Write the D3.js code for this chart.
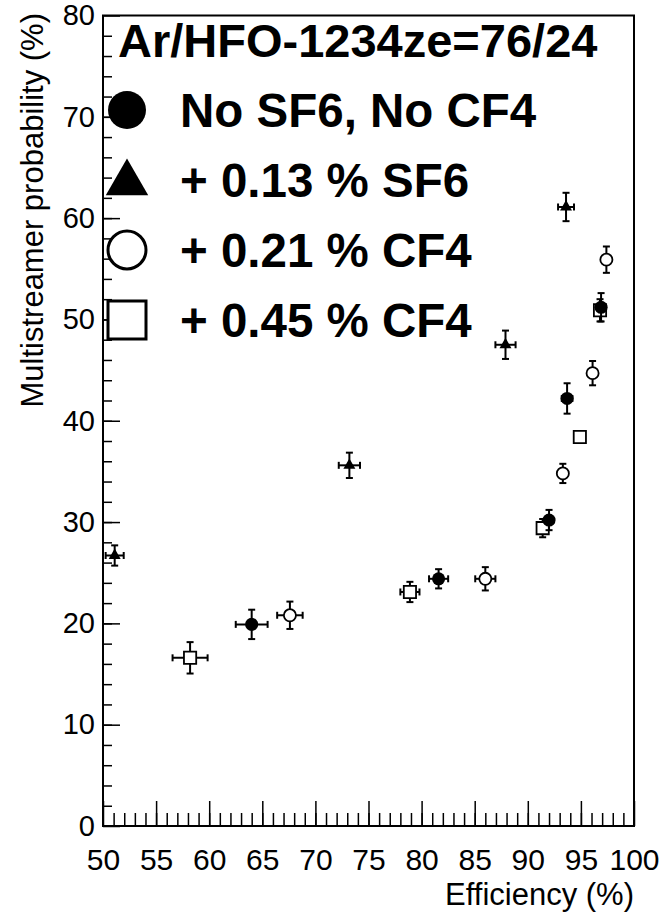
<!DOCTYPE html>
<html>
<head>
<meta charset="utf-8">
<script src="https://cdn.jsdelivr.net/npm/d3@7"></script>
<style>
  body { margin: 0; background: #fff; }
  svg text { font-family: "Liberation Sans", Arial, sans-serif; fill: #000; }
</style>
</head>
<body>
<div id="chart"></div>
<script>
// data
var legendTitle = "Ar/HFO-1234ze=76/24";
var seriesNames = ["No SF6, No CF4", "+ 0.13 % SF6", "+ 0.21 % CF4", "+ 0.45 % CF4"];

// No SF6, No CF4 (filled circle)
var noAddEff = [64.0, 81.6, 92.0, 93.7, 96.9];
var noAddEffErr = [1.5, 0.9, 0.4, 0.5, 0.3];
var noAddProb = [19.9, 24.4, 30.2, 42.2, 51.2];
var noAddProbErr = [1.45, 0.95, 1.0, 1.5, 1.4];

// + 0.13 % SF6 (filled triangle)
var sf6Eff = [51.1, 73.2, 87.9, 93.6];
var sf6EffErr = [0.85, 1.0, 0.95, 0.75];
var sf6Prob = [26.7, 35.6, 47.5, 61.1];
var sf6ProbErr = [1.0, 1.25, 1.4, 1.4];

// + 0.21 % CF4 (open circle)
var cf4aEff = [67.6, 86.0, 93.3, 96.1, 97.4];
var cf4aEffErr = [1.2, 0.95, 0.4, 0.4, 0.3];
var cf4aProb = [20.8, 24.4, 34.8, 44.7, 55.9];
var cf4aProbErr = [1.35, 1.15, 0.95, 1.2, 1.3];

// + 0.45 % CF4 (open square)
var cf4bEff = [58.2, 78.9, 91.4, 94.9, 96.8];
var cf4bEffErr = [1.65, 0.9, 0.3, 0.3, 0.3];
var cf4bProb = [16.6, 23.1, 29.4, 38.4, 50.9];
var cf4bProbErr = [1.55, 1.0, 0.9, 0.5, 1.1];

var xTicks = [50, 55, 60, 65, 70, 75, 80, 85, 90, 95, 100];
var yTicks = [0, 10, 20, 30, 40, 50, 60, 70, 80];

var W = 662, H = 921;
var padL = 103, padR = 634, padT = 15.5, padB = 826;

var svg = d3.select("#chart")
	.append("svg")
	.attr("width", W)
	.attr("height", H);

var x = d3.scaleLinear().domain([50, 100]).range([padL, padR]);
var y = d3.scaleLinear().domain([0, 80]).range([padB, padT]);

// minor ticks
svg.append("g")
	.attr("transform", "translate(0," + padB + ")")
	.call(d3.axisBottom(x).tickValues(d3.range(51, 100, 1)).tickSize(-13).tickFormat(""))
	.call(function(g) { g.select(".domain").remove(); });
svg.append("g")
	.attr("transform", "translate(" + padL + ",0)")
	.call(d3.axisLeft(y).tickValues(d3.range(2, 80, 2)).tickSize(-9).tickFormat(""))
	.call(function(g) { g.select(".domain").remove(); });

// major ticks + labels
var gx = svg.append("g")
	.attr("transform", "translate(0," + padB + ")")
	.call(d3.axisBottom(x).tickValues(xTicks).tickSizeInner(-25).tickSizeOuter(0).tickPadding(23));
gx.select(".domain").remove();
gx.selectAll("text").style("font-size", "30px");

var gy = svg.append("g")
	.attr("transform", "translate(" + padL + ",0)")
	.call(d3.axisLeft(y).tickValues(yTicks).tickSizeInner(-17).tickSizeOuter(0).tickPadding(8));
gy.select(".domain").remove();
gy.selectAll("text").style("font-size", "29px");

svg.selectAll(".tick line").attr("stroke", "#000").attr("stroke-width", 1.5);

// frame
svg.append("rect")
	.attr("x", padL).attr("y", padT)
	.attr("width", padR - padL).attr("height", padB - padT)
	.attr("fill", "none").attr("stroke", "#000").attr("stroke-width", 2);

// axis titles
svg.append("text")
	.attr("x", padR).attr("y", 905)
	.attr("text-anchor", "end")
	.style("font-size", "31px")
	.text("Efficiency (%)");
svg.append("text")
	.attr("transform", "translate(43,13) rotate(-90)")
	.attr("text-anchor", "end")
	.style("font-size", "31px")
	.text("Multistreamer probability (%)");

function pts(ex, exe, py, pye) {
	return ex.map(function(v, i) { return { x: v, xe: exe[i], y: py[i], ye: pye[i] }; });
}

var series = [
	{ data: pts(cf4bEff, cf4bEffErr, cf4bProb, cf4bProbErr), shape: d3.symbolSquare, size: 150, fill: "#fff", leg: 3, lsize: 1444 },
	{ data: pts(cf4aEff, cf4aEffErr, cf4aProb, cf4aProbErr), shape: d3.symbolCircle, size: 115, fill: "#fff", leg: 2, lsize: 1134 },
	{ data: pts(sf6Eff, sf6EffErr, sf6Prob, sf6ProbErr), shape: d3.symbolTriangle, size: 62, fill: "#000", leg: 1, lsize: 780 },
	{ data: pts(noAddEff, noAddEffErr, noAddProb, noAddProbErr), shape: d3.symbolCircle, size: 135, fill: "#000", leg: 0, lsize: 1134 }
];

var cap = 3.5;
series.forEach(function(s) {
	var g = svg.append("g");
	var e = g.selectAll("g.err").data(s.data).enter().append("g")
		.attr("stroke", "#000").attr("stroke-width", 2);
	e.append("line")
		.attr("x1", function(d) { return x(d.x - d.xe); })
		.attr("x2", function(d) { return x(d.x + d.xe); })
		.attr("y1", function(d) { return y(d.y); })
		.attr("y2", function(d) { return y(d.y); });
	e.append("line")
		.attr("x1", function(d) { return x(d.x); })
		.attr("x2", function(d) { return x(d.x); })
		.attr("y1", function(d) { return y(d.y - d.ye); })
		.attr("y2", function(d) { return y(d.y + d.ye); });
	// caps
	[-1, 1].forEach(function(sg) {
		e.append("line")
			.attr("x1", function(d) { return x(d.x + sg * d.xe); })
			.attr("x2", function(d) { return x(d.x + sg * d.xe); })
			.attr("y1", function(d) { return y(d.y) - cap; })
			.attr("y2", function(d) { return y(d.y) + cap; });
		e.append("line")
			.attr("x1", function(d) { return x(d.x) - cap; })
			.attr("x2", function(d) { return x(d.x) + cap; })
			.attr("y1", function(d) { return y(d.y + sg * d.ye); })
			.attr("y2", function(d) { return y(d.y + sg * d.ye); });
	});
	g.selectAll("path.mk").data(s.data).enter().append("path")
		.attr("d", d3.symbol(s.shape, s.size))
		.attr("transform", function(d) { return "translate(" + x(d.x) + "," + y(d.y) + ")"; })
		.attr("fill", s.fill)
		.attr("stroke", "#000")
		.attr("stroke-width", s.fill == "#000" ? 0 : 1.8);
});

// legend
svg.append("text")
	.attr("x", 118).attr("y", 57)
	.style("font-size", "47px").style("font-weight", "bold")
	.text(legendTitle);

series.forEach(function(s) {
	var ry = 110 + s.leg * 70;
	var my = s.shape == d3.symbolTriangle ? ry + 3 : ry;
	svg.append("path")
		.attr("d", d3.symbol(s.shape, s.lsize))
		.attr("transform", "translate(127," + my + ")")
		.attr("fill", s.fill)
		.attr("stroke", "#000")
		.attr("stroke-width", s.fill == "#000" ? 0 : 3);
	svg.append("text")
		.attr("x", 180).attr("y", ry + 17)
		.style("font-size", "47.5px").style("font-weight", "bold")
		.text(seriesNames[s.leg]);
});
</script>
</body>
</html>
